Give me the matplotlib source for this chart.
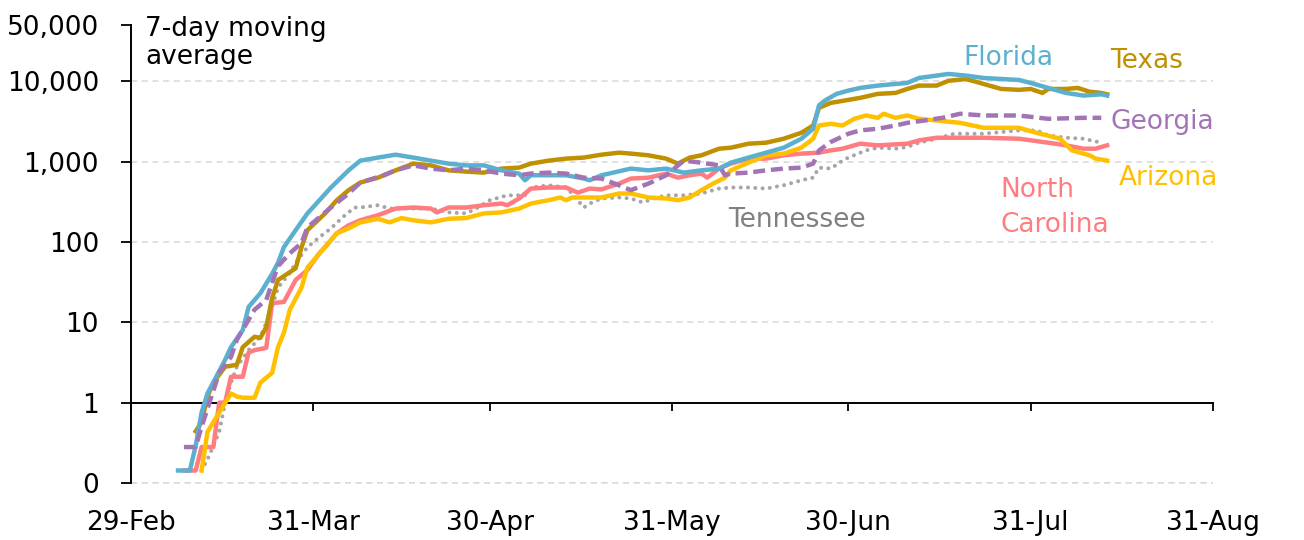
import datetime as dt
import matplotlib
matplotlib.use("Agg")
import matplotlib.pyplot as plt
import matplotlib.dates as mdates
from matplotlib.ticker import FixedLocator, FixedFormatter

START = dt.date(2020, 2, 29)

# 7-day moving average of new cases (days after 29-Feb)
florida_days = [8, 10, 11, 12, 13, 16, 17, 19, 20, 22, 24, 25, 26, 28, 30, 34, 37, 39, 42, 45,
                48, 51, 54, 57, 60, 63, 66, 67, 68, 71, 74, 77, 78, 80, 82, 85, 88, 91, 94, 97,
                100, 102, 105, 108, 111, 114, 116, 117, 118, 120, 122, 124, 127, 130, 132, 134,
                137, 139, 142, 145, 151, 153, 156, 159, 162, 165, 166]
florida = [0.143, 0.143, 0.29, 0.75, 1.3, 3.4, 4.9, 8, 15.5, 23, 40, 55, 86, 140, 226, 475, 777,
           1026, 1120, 1217, 1120, 1026, 942, 896, 896, 777, 708, 585, 675, 675, 675, 614, 585,
           675, 728, 817, 777, 817, 728, 777, 817, 968, 1120, 1290, 1487, 1923, 2560, 5000, 5740,
           6950, 7640, 8240, 8810, 9230, 9500, 10960, 11730, 12300, 11730, 10960, 10350, 9500,
           8240, 7140, 6620, 6860, 6620]

texas_days = [11, 12, 13, 14, 16, 18, 19, 21, 22, 23, 24, 25, 27, 28, 29, 30, 33, 35, 37, 39,
              42, 45, 48, 51, 54, 57, 60, 63, 66, 68, 71, 74, 77, 80, 83, 85, 88, 91, 93, 95,
              97, 100, 102, 105, 108, 111, 114, 116, 117, 119, 122, 124, 127, 130, 132, 134,
              137, 139, 142, 145, 148, 151, 153, 155, 156, 159, 161, 163, 165, 166]
texas = [0.44, 0.57, 1.19, 1.77, 2.8, 2.96, 4.9, 6.6, 6.4, 8.7, 20, 33.6, 42, 47, 86, 140, 226,
         330, 440, 548, 630, 777, 942, 896, 777, 750, 728, 817, 840, 942, 1026, 1087, 1120, 1217,
         1290, 1255, 1195, 1087, 942, 1120, 1195, 1445, 1487, 1667, 1716, 1923, 2280, 2810, 4660,
         5370, 5850, 6200, 6950, 7140, 8000, 8810, 8810, 10100, 10640, 9230, 8000, 7800, 8000,
         7140, 8000, 8000, 8240, 7400, 7140, 6860]

georgia_days = [9, 11, 12, 15, 17, 18, 21, 23, 25, 27, 29, 30, 34, 37, 39, 43, 45, 48, 51, 54,
                57, 60, 63, 66, 68, 71, 74, 77, 80, 83, 85, 88, 91, 94, 97, 100, 101, 102, 105,
                108, 111, 114, 116, 117, 119, 122, 124, 127, 130, 132, 135, 138, 141, 145, 151,
                156, 162, 165]
georgia = [0.28, 0.28, 0.5, 2.35, 3.7, 6.05, 14.3, 19, 50, 72, 97, 152, 268, 400, 548, 675, 777,
           896, 817, 777, 817, 777, 708, 675, 708, 728, 708, 630, 614, 507, 440, 532, 675, 1026,
           968, 896, 675, 708, 728, 777, 817, 840, 942, 1377, 1750, 2220, 2440, 2560, 2810, 3030,
           3245, 3500, 3930, 3740, 3740, 3400, 3500, 3500]

arizona_days = [12, 13, 14, 15, 17, 18, 19, 21, 22, 24, 25, 26, 27, 29, 30, 33, 35, 37, 39, 42,
                44, 46, 48, 51, 54, 57, 60, 63, 66, 68, 71, 73, 74, 75, 77, 80, 83, 85, 88, 91,
                93, 95, 97, 99, 101, 102, 105, 108, 111, 114, 116, 117, 119, 121, 123, 125, 127,
                128, 130, 132, 134, 137, 141, 145, 151, 154, 158, 160, 163, 164, 166]
arizona = [0.143, 0.43, 0.57, 0.75, 1.3, 1.19, 1.15, 1.15, 1.77, 2.35, 4.9, 7.4, 14.3, 27, 48,
           86, 128, 147, 175, 194, 175, 198, 186, 175, 194, 198, 226, 233, 260, 300, 330, 357,
           330, 357, 357, 357, 400, 400, 357, 347, 330, 357, 440, 532, 630, 777, 968, 1195, 1255,
           1487, 1923, 2810, 2950, 2810, 3400, 3740, 3500, 3930, 3500, 3740, 3400, 3245, 3030,
           2630, 2630, 2280, 1923, 1377, 1195, 1090, 1026]

nc_days = [9, 11, 12, 14, 15, 16, 17, 19, 20, 21, 23, 24, 26, 28, 30, 32, 33, 35, 37, 39, 42,
           45, 48, 51, 52, 54, 57, 60, 63, 64, 66, 68, 71, 74, 76, 78, 80, 83, 85, 88, 91, 93,
           95, 97, 98, 100, 102, 105, 108, 111, 114, 117, 119, 121, 124, 127, 132, 134, 137,
           141, 145, 151, 156, 159, 162, 164, 166]
nc = [0.143, 0.143, 0.28, 0.28, 1.0, 1.0, 2.1, 2.1, 4.2, 4.5, 4.8, 17.3, 17.9, 33.6, 44.7, 72,
      86, 128, 161, 186, 215, 260, 268, 260, 233, 268, 268, 286, 300, 286, 347, 461, 475, 475,
      410, 461, 450, 532, 614, 630, 708, 630, 675, 708, 630, 817, 942, 1087, 1087, 1195, 1255,
      1290, 1377, 1445, 1667, 1590, 1667, 1833, 1977, 1977, 1977, 1923, 1716, 1590, 1445, 1445,
      1590]

tn_days = [12, 13, 15, 16, 17, 18, 20, 22, 23, 24, 25, 27, 28, 30, 32, 34, 36, 38, 39, 42, 44,
           47, 51, 54, 57, 59, 61, 64, 67, 68, 71, 74, 75, 77, 78, 80, 83, 85, 87, 89, 91, 94,
           97, 100, 102, 105, 108, 111, 114, 116, 117, 119, 121, 122, 125, 127, 130, 132, 134,
           137, 140, 145, 151, 154, 156, 159, 162, 165]
tn = [0.143, 0.196, 0.43, 1.0, 1.77, 2.8, 4.5, 6.6, 9.8, 15.5, 27, 41, 55, 86, 114, 147, 203,
      268, 268, 286, 260, 260, 260, 233, 226, 268, 330, 380, 380, 475, 507, 475, 400, 268, 300,
      347, 357, 347, 310, 347, 380, 380, 400, 461, 475, 475, 461, 507, 585, 630, 840, 817, 1026,
      1120, 1377, 1487, 1445, 1520, 1716, 1923, 2220, 2220, 2440, 2440, 2115, 1977, 1923, 1716]

y_ticks = [0.1, 1, 10, 100, 1000, 10000, 50000]
y_labels = ["0", "1", "10", "100", "1,000", "10,000", "50,000"]
x_tick_days = [0, 31, 61, 92, 122, 153, 184]


def to_dates(days):
    return [START + dt.timedelta(days=d) for d in days]


W, H = 1304, 540
plt.rcParams["font.family"] = ["DejaVu Sans"]
fig = plt.figure(figsize=(W / 100, H / 100), dpi=100)
ax = fig.add_axes([131 / W, 1 - 483 / H, (1213 - 131) / W, (483 - 25) / H])

lw = 3.2
ax.plot(to_dates(tn_days), tn, color="#A6A6A6", lw=2.9, linestyle=(0, (0.01, 1.8)),
        dash_capstyle="round", zorder=3)
ax.plot(to_dates(nc_days), nc, color="#FF7C80", lw=lw, zorder=3)
ax.plot(to_dates(arizona_days), arizona, color="#FFC000", lw=lw, zorder=3)
ax.plot(to_dates(texas_days), texas, color="#BF9000", lw=lw, zorder=3)
ax.plot(to_dates(florida_days), florida, color="#5BB0D0", lw=lw, zorder=3)
ax.plot(to_dates(georgia_days), georgia, color="#A374B5", lw=lw, linestyle=(0, (2.7, 1.3)),
        zorder=3)

ax.set_yscale("log")
ax.set_ylim(0.1, 50000)
ax.set_xlim(START, START + dt.timedelta(days=184))

ax.yaxis.set_major_locator(FixedLocator(y_ticks))
ax.yaxis.set_major_formatter(FixedFormatter(y_labels))
ax.yaxis.set_minor_locator(FixedLocator([]))
ax.set_xticks(to_dates(x_tick_days))
ax.xaxis.set_major_formatter(mdates.DateFormatter("%d-%b"))

for s in ["top", "right"]:
    ax.spines[s].set_visible(False)
ax.spines["left"].set_linewidth(1.4)
ax.spines["bottom"].set_linewidth(1.4)
ax.spines["bottom"].set_position(("data", 1))

fs = 19
ax.tick_params(axis="y", direction="out", length=7, width=1.3, pad=16, labelsize=fs)
ax.tick_params(axis="x", direction="out", length=6, width=1.3, pad=71, labelsize=fs)

grid_style = dict(color="#D9D9D9", linestyle=(0, (4, 3)), lw=1.1)
ax.yaxis.grid(True, **grid_style)
ax.set_axisbelow(True)
ax.get_ygridlines()[-1].set_visible(False)
ax.get_ygridlines()[1].set_visible(False)
# bottom gridline sits on the axes edge, draw it unclipped
ax.axhline(y_ticks[0], clip_on=False, zorder=1, **grid_style)

fig.text(145 / W, 1 - 16 / H, "7-day moving\naverage", fontsize=fs, va="top", ha="left",
         linespacing=1.1)


def label(x, y, s, c, ha="left"):
    fig.text(x / W, 1 - y / H, s, color=c, fontsize=fs, ha=ha, va="baseline")


label(963, 65, "Florida", "#5BB0D0")
label(1110, 68, "Texas", "#BF9000")
label(1110, 129, "Georgia", "#A374B5")
label(1218, 185, "Arizona", "#FFC000", ha="right")
label(1000, 197, "North", "#FF7C80")
label(1000, 232, "Carolina", "#FF7C80")
label(728, 227, "Tennessee", "#808080")

fig.savefig("out.png", dpi=100)
